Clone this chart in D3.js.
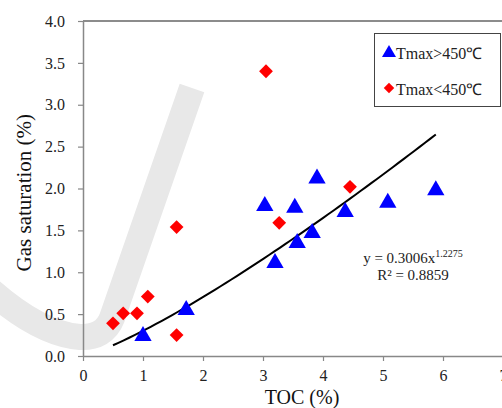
<!DOCTYPE html>
<html>
<head>
<meta charset="utf-8">
<script src="https://cdn.jsdelivr.net/npm/d3@7"></script>
<style>
  body { margin: 0; background: #fff; }
  svg { display: block; }
  text { font-family: 'Liberation Serif', 'Times New Roman', serif; }
</style>
</head>
<body>
<div id="chart"></div>
<script>
// Data
const hiTOC = [1.0, 1.72, 3.03, 3.2, 3.53, 3.57, 3.82, 3.9, 4.37, 5.08, 5.88];
const hiSat = [0.24, 0.55, 1.79, 1.11, 1.77, 1.35, 1.47, 2.12, 1.72, 1.83, 1.98];
const loTOC = [0.5, 0.67, 0.9, 1.08, 1.56, 1.56, 3.05, 3.27, 4.45];
const loSat = [0.39, 0.51, 0.51, 0.71, 1.54, 0.25, 3.40, 1.59, 2.02];
const xTicks = [0, 1, 2, 3, 4, 5, 6, 7];
const yTicks = [0, 0.5, 1, 1.5, 2, 2.5, 3, 3.5, 4];
// power fit shown on the chart
const fitA = 0.3006, fitB = 1.2275, fitFrom = 0.5, fitTo = 5.88;
const legendLabels = ["Tmax>450\u2103", "Tmax<450\u2103"];

const W = 502, H = 408;
const svg = d3.select('#chart').append('svg')
  .attr('width', W)
  .attr('height', H);

// faint publisher watermark swoosh
svg.append('path')
  .attr('d', 'M192,88 L112,318 Q104,338 80,337 Q40,334 -10,290')
  .attr('fill', 'none').attr('stroke', '#e8e8e8').attr('stroke-width', 26);

// scales
const x = d3.scaleLinear().domain([0, 7]).range([83, 503]);
const y = d3.scaleLinear().domain([0, 4]).range([356, 21]);

// top frame line
svg.append('line')
  .attr('x1', x(0)).attr('x2', W).attr('y1', y(4)).attr('y2', y(4))
  .attr('stroke', '#666').attr('stroke-width', 1.5);

// x axis
const gx = svg.append('g')
  .attr('transform', `translate(0,${y(0)})`)
  .call(d3.axisBottom(x).tickValues(xTicks).tickFormat(d3.format('d')).tickSize(5).tickSizeOuter(0));
// y axis
const gy = svg.append('g')
  .attr('transform', `translate(${x(0)},0)`)
  .call(d3.axisLeft(y).tickValues(yTicks).tickFormat(d3.format('.1f')).tickSize(5).tickSizeOuter(0));

[gx, gy].forEach(g => {
  g.attr('font-family', null);
  g.select('.domain').attr('stroke', '#888').attr('stroke-width', 1.5);
  g.selectAll('.tick line').attr('stroke', '#888').attr('stroke-width', 1.2);
  g.selectAll('.tick text').attr('fill', '#222').style('font-size', '16px');
});
gx.selectAll('.tick text').attr('y', 14).attr('dy', '0.71em');
gy.selectAll('.tick text').attr('x', -18);

// axis titles
svg.append('text')
  .attr('x', 302).attr('y', 404)
  .attr('text-anchor', 'middle')
  .style('font-size', '20px').attr('fill', '#111')
  .text('TOC (%)');
svg.append('text')
  .attr('transform', `translate(31,${y(1.95)}) rotate(-90)`)
  .attr('text-anchor', 'middle')
  .style('font-size', '21px').attr('fill', '#111')
  .text('Gas saturation (%)');

// fit curve
const fitX = d3.range(0, 61).map(i => fitFrom + (fitTo - fitFrom) * i / 60);
svg.append('path')
  .datum(fitX)
  .attr('fill', 'none').attr('stroke', '#000').attr('stroke-width', 2)
  .attr('d', d3.line().x(d => x(d)).y(d => y(fitA * Math.pow(d, fitB))));

// points
const tri = d3.symbol().type(d3.symbolTriangle).size(130);
const dia = d3.symbol().type(d3.symbolSquare).size(95);

svg.selectAll('.lo')
  .data(loTOC)
  .enter().append('path')
  .attr('d', dia)
  .attr('transform', (d, i) => `translate(${x(d)},${y(loSat[i])}) rotate(45)`)
  .attr('fill', '#ff0000');

svg.selectAll('.hi')
  .data(hiTOC)
  .enter().append('path')
  .attr('d', tri)
  .attr('transform', (d, i) => `translate(${x(d)},${y(hiSat[i])})`)
  .attr('fill', '#0000ff');

// equation
const eq = svg.append('text')
  .attr('x', 413).attr('y', 263)
  .attr('text-anchor', 'middle')
  .style('font-size', '15px').attr('fill', '#222');
eq.append('tspan').text('y = 0.3006x');
eq.append('tspan').attr('dy', -6).style('font-size', '10px').text('1.2275');
svg.append('text')
  .attr('x', 413).attr('y', 280)
  .attr('text-anchor', 'middle')
  .style('font-size', '15px').attr('fill', '#222')
  .text('R\u00b2 = 0.8859');

// legend
const lg = svg.append('g');
lg.append('rect')
  .attr('x', 374.5).attr('y', 33.5).attr('width', 126).attr('height', 73)
  .attr('fill', '#fff').attr('stroke', '#444').attr('stroke-width', 1);
lg.append('path').attr('d', d3.symbol().type(d3.symbolTriangle).size(85))
  .attr('transform', 'translate(389,53)').attr('fill', '#0000ff');
lg.append('path').attr('d', d3.symbol().type(d3.symbolSquare).size(55))
  .attr('transform', 'translate(389,88) rotate(45)').attr('fill', '#ff0000');
lg.selectAll('.lt')
  .data(legendLabels)
  .enter().append('text')
  .attr('x', 396).attr('y', (d, i) => 59 + i * 36)
  .style('font-size', '16px').attr('fill', '#222')
  .text(d => d);
</script>
</body>
</html>
